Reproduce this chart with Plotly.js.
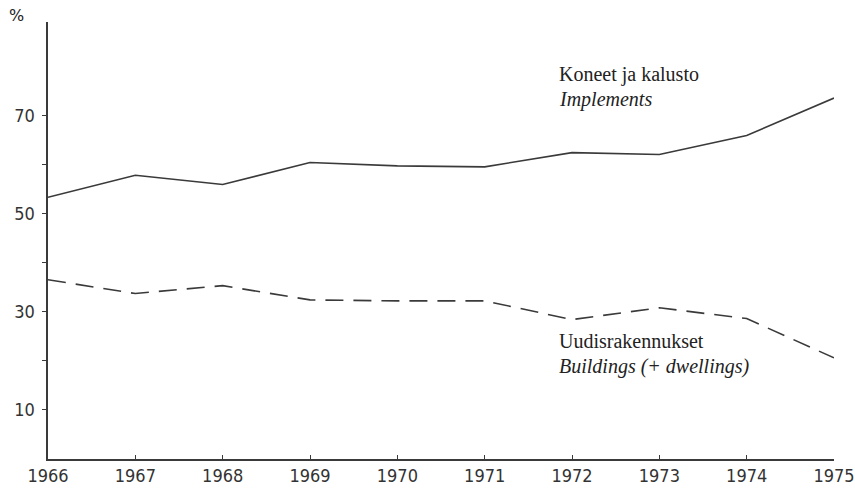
<!DOCTYPE html>
<html>
<head>
<meta charset="utf-8">
<script src="https://cdn.plot.ly/plotly-3.0.1.min.js"></script>
<style>html,body{margin:0;padding:0;background:#fff;}#chart{width:855px;height:491px;}</style>
</head>
<body>
<div id="chart"></div>
<script>
const years = [1966, 1967, 1968, 1969, 1970, 1971, 1972, 1973, 1974, 1975];
const implements = [53.3, 57.8, 55.9, 60.4, 59.7, 59.5, 62.4, 62.0, 65.9, 73.5];
const buildings = [36.5, 33.7, 35.3, 32.4, 32.2, 32.2, 28.4, 30.8, 28.6, 20.6];
const yTickVals = [10, 20, 30, 40, 50, 60, 70];
const yTickText = ['10', '', '30', '', '50', '', '70'];

const ink = '#3a3a3a';
const traces = [
  {x: years, y: implements, mode: 'lines', line: {color: ink, width: 1.6}, hoverinfo: 'skip'},
  {x: years, y: buildings, mode: 'lines', line: {color: ink, width: 1.6, dash: '18px,10px'}, hoverinfo: 'skip'}
];
const serif = 'Liberation Serif, serif';
const tickFont = {family: 'DejaVu Sans Condensed, DejaVu Sans, sans-serif', size: 18, color: '#333'};
const layout = {
  width: 855, height: 491,
  margin: {l: 48, r: 21, t: 22, b: 32},
  paper_bgcolor: '#fff', plot_bgcolor: '#fff',
  showlegend: false,
  xaxis: {
    range: [1966, 1975], tickvals: years, ticktext: years.map(String),
    ticks: 'inside', ticklen: 4, tickcolor: ink, showgrid: false, zeroline: false,
    showline: true, linecolor: ink, linewidth: 1.6, ticklabeloverflow: 'allow',
    tickfont: tickFont
  },
  yaxis: {
    range: [0, 89], tickvals: yTickVals, ticktext: yTickText,
    ticks: 'outside', ticklen: 4, tickcolor: ink, showgrid: false, zeroline: false,
    showline: true, linecolor: ink, linewidth: 1.6, ticklabelstandoff: 4,
    tickfont: tickFont
  },
  annotations: [
    {x: 1971.83, y: 78.4, xref: 'x', yref: 'y', text: 'Koneet ja kalusto', showarrow: false, xanchor: 'left', yanchor: 'middle', font: {family: serif, size: 20, color: '#222'}},
    {x: 1971.83, y: 73.2, xref: 'x', yref: 'y', text: '<i>Implements</i>', showarrow: false, xanchor: 'left', yanchor: 'middle', font: {family: serif, size: 20, color: '#222'}},
    {x: 1971.83, y: 24.0, xref: 'x', yref: 'y', text: 'Uudisrakennukset', showarrow: false, xanchor: 'left', yanchor: 'middle', font: {family: serif, size: 20, color: '#222'}},
    {x: 1971.83, y: 18.8, xref: 'x', yref: 'y', text: '<i>Buildings (+ dwellings)</i>', showarrow: false, xanchor: 'left', yanchor: 'middle', font: {family: serif, size: 20, color: '#222'}},
    {x: -0.04, y: 1.016, xref: 'paper', yref: 'paper', text: '%', showarrow: false, xanchor: 'center', yanchor: 'middle', font: {family: 'DejaVu Sans, sans-serif', size: 16, color: '#222'}}
  ]
};
Plotly.newPlot('chart', traces, layout, {staticPlot: true, displayModeBar: false});
</script>
</body>
</html>
